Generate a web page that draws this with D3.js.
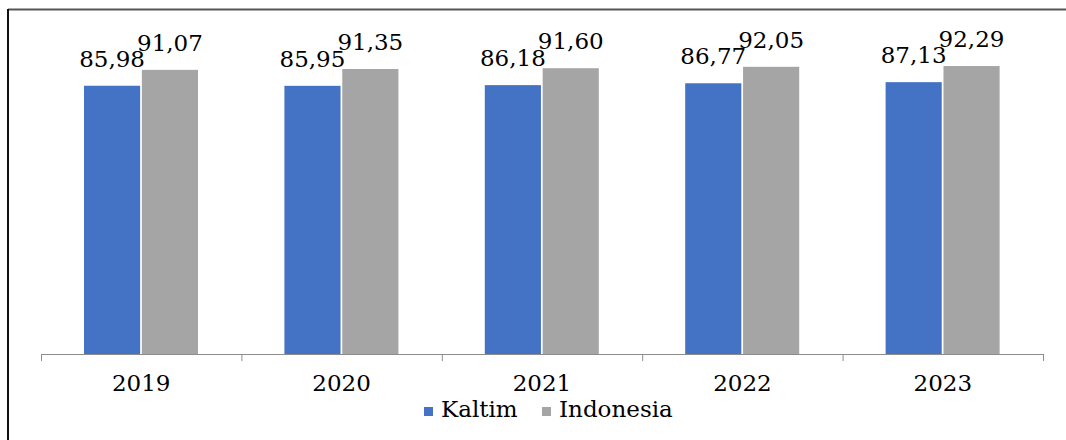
<!DOCTYPE html>
<html>
<head>
<meta charset="utf-8">
<script src="https://cdn.jsdelivr.net/npm/d3@7"></script>
<style>
	body { margin: 0; background: #fff; }
	text { font-family: "DejaVu Serif", serif; fill: #000; }
</style>
</head>
<body>
<div id="chart-area"></div>
<script>
var years = ["2019", "2020", "2021", "2022", "2023"];
var seriesNames = ["Kaltim", "Indonesia"];
var kaltim = [85.98, 85.95, 86.18, 86.77, 87.13];
var indonesia = [91.07, 91.35, 91.60, 92.05, 92.29];
var colors = ["#4472c4", "#a5a5a5"];

var width = 1066;
var height = 440;

var svg = d3.select("#chart-area")
	.append("svg")
	.attr("width", width)
	.attr("height", height);

// frame: top and left edges only are visible
svg.append("line")
	.attr("x1", 8).attr("x2", width).attr("y1", 9.5).attr("y2", 9.5)
	.attr("stroke", "#555").attr("stroke-width", 2);
svg.append("line")
	.attr("x1", 8).attr("x2", 8).attr("y1", 9).attr("y2", height)
	.attr("stroke", "#111").attr("stroke-width", 2);

var x0 = d3.scaleBand()
	.domain(years)
	.range([41, 1043])
	.padding(0);

var x1 = d3.scaleBand()
	.domain(seriesNames)
	.range([43, 157])
	.paddingInner(0.03);

var y = d3.scaleLinear()
	.domain([0, 100])
	.range([354, 42]);

var fmt = d3.formatLocale({ decimal: ",", thousands: ".", grouping: [3], currency: ["", ""] }).format(".2f");

var data = years.map((yr, i) => {
	return { year: yr, values: [
		{ name: "Kaltim", value: kaltim[i] },
		{ name: "Indonesia", value: indonesia[i] }
	] };
});

var color = d3.scaleOrdinal().domain(seriesNames).range(colors);

var groups = svg.selectAll("g.year")
	.data(data)
	.enter().append("g")
	.attr("class", "year")
	.attr("transform", d => "translate(" + x0(d.year) + ",0)");

groups.selectAll("rect")
	.data(d => d.values)
	.enter().append("rect")
	.attr("x", d => x1(d.name))
	.attr("y", d => y(d.value))
	.attr("width", x1.bandwidth())
	.attr("height", d => y(0) - y(d.value))
	.attr("fill", d => color(d.name));

groups.selectAll("text.label")
	.data(d => d.values)
	.enter().append("text")
	.attr("class", "label")
	.attr("x", d => x1(d.name) + x1.bandwidth() / 2)
	.attr("y", d => y(d.value) - 19)
	.attr("text-anchor", "middle")
	.attr("font-size", "23px")
	.text(d => fmt(d.value));

// category axis with ticks between categories
var axisG = svg.append("g").attr("class", "x axis");
var r = x0.range();
axisG.append("line")
	.attr("x1", r[0]).attr("x2", r[1])
	.attr("y1", y(0) + 0.5).attr("y2", y(0) + 0.5)
	.attr("stroke", "#8c8c8c").attr("stroke-width", 1);

var boundaries = years.map(d => x0(d)).concat([r[1]]);
axisG.selectAll("line.tick")
	.data(boundaries)
	.enter().append("line")
	.attr("class", "tick")
	.attr("x1", d => d + 0.5).attr("x2", d => d + 0.5)
	.attr("y1", y(0)).attr("y2", y(0) + 7)
	.attr("stroke", "#8c8c8c");

axisG.selectAll("text")
	.data(years)
	.enter().append("text")
	.attr("x", d => x0(d) + x0.bandwidth() / 2)
	.attr("y", 391)
	.attr("text-anchor", "middle")
	.attr("font-size", "23px")
	.text(d => d);

// legend
var legendX = [424, 542];
var legend = svg.selectAll("g.legend")
	.data(seriesNames)
	.enter().append("g")
	.attr("class", "legend")
	.attr("transform", (d, i) => "translate(" + legendX[i] + ",0)");

legend.append("rect")
	.attr("x", 0).attr("y", 407)
	.attr("width", 9).attr("height", 9)
	.attr("fill", d => color(d));

legend.append("text")
	.attr("x", 17).attr("y", 417)
	.attr("font-size", "23px")
	.text(d => d);
</script>
</body>
</html>
